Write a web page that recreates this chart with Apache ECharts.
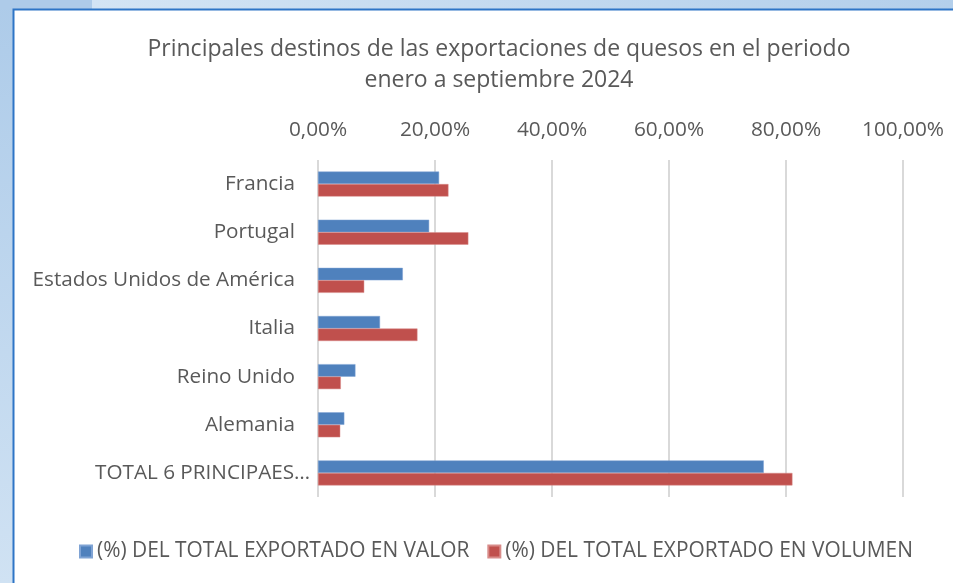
<!DOCTYPE html>
<html><head><meta charset="utf-8">
<script src="https://cdn.jsdelivr.net/npm/echarts@6/dist/echarts.min.js"></script>
<style>html,body{margin:0;padding:0;background:#fff}#c{width:953px;height:583px}</style>
</head><body><div id="c"></div>
<script>
const categories = ['Francia','Portugal','Estados Unidos de América','Italia','Reino Unido','Alemania','TOTAL 6 PRINCIPAES…'];
const valorPct = [20.7, 19.0, 14.5, 10.6, 6.4, 4.5, 76.2];
const volumenPct = [22.3, 25.7, 7.9, 17.0, 3.9, 3.8, 81.1];
const seriesNames = ['(%) DEL TOTAL EXPORTADO EN VALOR','(%) DEL TOTAL EXPORTADO EN VOLUMEN'];
const titleText = 'Principales destinos de las exportaciones de quesos en el periodo\nenero a septiembre 2024';

const FONT = 'Open Sans';
const TXT = '#595959';
const chart = echarts.init(document.getElementById('c'), null, {renderer:'canvas'});
chart.setOption({
  backgroundColor: '#ffffff',
  animation: false,
  graphic: [
    {type:'rect', z:-10, shape:{x:0,y:0,width:953,height:583},
      style:{fill:new echarts.graphic.LinearGradient(0,0,0,1,[{offset:0,color:'#adcbe9'},{offset:1,color:'#d0e2f3'}])}},
    {type:'rect', z:-9, shape:{x:92,y:0,width:861,height:9},
      style:{fill:new echarts.graphic.LinearGradient(0,0,1,0,[{offset:0,color:'#d3e4f4'},{offset:1,color:'#b3cfeb'}])}},
    {type:'rect', z:-9, shape:{x:0,y:0,width:92,height:9}, style:{fill:'#aecbe9'}},
    {type:'rect', z:-8, shape:{x:13.5,y:9.5,width:945,height:580}, style:{fill:'#ffffff', stroke:'#2e75c6', lineWidth:2}}
  ],
  title: {
    text: titleText,
    left: 494, top: 29, textAlign: 'center',
    textStyle: {fontFamily: FONT, fontSize: 23, fontWeight: 'normal', color: TXT, lineHeight: 31}
  },
  legend: {
    data: seriesNames,
    top: 536, left: 74,
    itemWidth: 12, itemHeight: 12, itemGap: 18,
    icon: 'rect',
    textStyle: {fontFamily: FONT, fontSize: 20.9, color: TXT}
  },
  grid: {left: 318, right: 50, top: 160, bottom: 86, containLabel: false},
  xAxis: {
    type: 'value', position: 'top', min: 0, max: 100, interval: 20,
    axisLine: {show: false}, axisTick: {show: false},
    splitLine: {lineStyle: {color: '#d9d9d9', width: 2}},
    axisLabel: {fontFamily: FONT, fontSize: 20.8, color: TXT, margin: 19,
      formatter: v => v.toFixed(2).replace('.', ',') + '%'}
  },
  yAxis: {
    type: 'category', inverse: true, data: categories,
    axisLine: {show: false}, axisTick: {show: false},
    axisLabel: {fontFamily: FONT, fontSize: 20.7, color: TXT, margin: 23,
      formatter: (v, i) => i === categories.length - 1 ? '{t|' + v + '}' : v,
      rich: {t: {fontFamily: FONT, fontSize: 20.7, color: TXT, width: 200, align: 'left', overflow: 'none'}}
    }
  },
  series: [
    {name: seriesNames[0], type: 'bar', data: valorPct, barWidth: 12.5, barGap: '0%',
      itemStyle: {color: '#4f81bd', borderColor: '#7fa3d4', borderWidth: 0.5}},
    {name: seriesNames[1], type: 'bar', data: volumenPct, barWidth: 12.5, barGap: '0%',
      itemStyle: {color: '#c0504d', borderColor: '#d88b89', borderWidth: 0.5}}
  ]
});
</script></body></html>
